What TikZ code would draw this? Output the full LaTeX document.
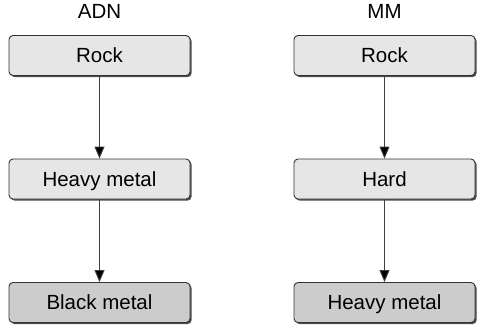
\documentclass[tikz,border=0pt]{standalone}
\usepackage{fontspec}
\setmainfont{Liberation Sans}
\usetikzlibrary{positioning,shadows,arrows.meta}
\definecolor{boxlight}{HTML}{E6E6E6}
\definecolor{boxdark}{HTML}{CCCCCC}
\definecolor{boxline}{HTML}{333333}
\begin{document}
\begin{tikzpicture}[x=1pt,y=-1pt,node distance=123.5pt,
		genre/.style={draw=boxline,line width=0.9pt,rounded corners=4pt,minimum width=181pt,minimum height=40pt,inner sep=0pt,text height=14.5pt,text depth=0pt,font=\fontsize{20.5}{24}\selectfont,drop shadow={shadow xshift=1.6pt,shadow yshift=-1.6pt,fill=black!70,opacity=1}},
		top/.style={fill=boxlight},
		bot/.style={fill=boxdark},
		lab/.style={inner sep=0pt,text height=14.5pt,text depth=0pt,font=\fontsize{20.5}{24}\selectfont},
		com/.style={-{Triangle[length=12pt,width=10pt,fill=black]},draw=black!75,line width=0.9pt}]
		\useasboundingbox (0,0) rectangle (478,327);
		\node[genre,top] (rA) at (99.5,55.5) {Rock};
		\node[genre,top] (hA) [below of=rA] {Heavy metal};
		\node[genre,bot] (bA) [below of=hA] {Black metal};
		\node[lab] [above of=rA,node distance=44.5pt] {ADN};

		\node[genre,top] (rM) at (384.5,55.5) {Rock};
		\node[genre,top] (hM) [below of=rM] {Hard};
		\node[genre,bot] (bM) [below of=hM] {Heavy metal};
		\node[lab] [above of=rM,node distance=44.5pt] {MM};

		\draw[com] (rA) -- (hA);
		\draw[com] (hA) -- (bA);
		\draw[com] (rM) -- (hM);
		\draw[com] (hM) -- (bM);
	\end{tikzpicture}
\end{document}
